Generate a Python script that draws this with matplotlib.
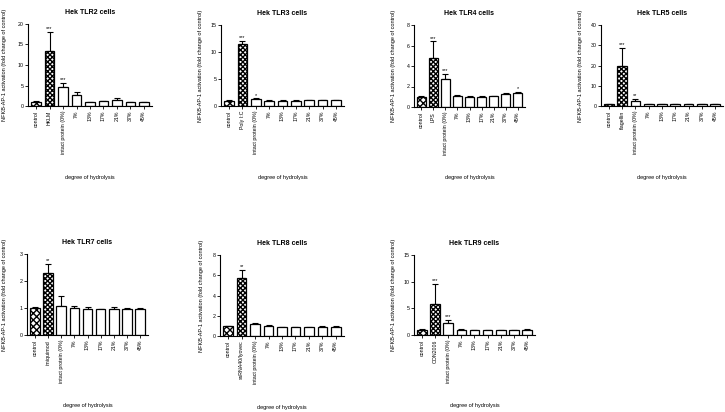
import numpy as np
import matplotlib.pyplot as plt

plt.rcParams['font.family'] = ['Liberation Sans', 'DejaVu Sans']

# categories shared by every panel (second one is the positive control)
cats_tail = ["intact protein (0%)", "7%", "13%", "17%", "21%", "37%", "45%"]

titles = ["Hek TLR2 cells", "Hek TLR3 cells", "Hek TLR4 cells", "Hek TLR5 cells",
          "Hek TLR7 cells", "Hek TLR8 cells", "Hek TLR9 cells"]
pos_ctrl = ["HKLM", "Poly I:C", "LPS", "flagellin", "imiquimod",
            "ssRNA40/lyovec", "ODN2006"]

tlr2_mean = [1.0, 13.3, 4.7, 2.6, 1.0, 1.1, 1.5, 1.0, 1.0]
tlr2_err = [0.1, 4.8, 1.0, 0.9, 0.05, 0.1, 0.4, 0.05, 0.05]
tlr3_mean = [1.0, 11.5, 1.3, 1.0, 1.0, 1.0, 1.05, 1.05, 1.05]
tlr3_err = [0.05, 0.6, 0.1, 0.05, 0.05, 0.05, 0.05, 0.05, 0.05]
tlr4_mean = [1.0, 4.8, 2.7, 1.1, 1.0, 1.0, 1.05, 1.25, 1.35]
tlr4_err = [0.05, 1.6, 0.5, 0.05, 0.03, 0.03, 0.03, 0.08, 0.1]
tlr5_mean = [1.0, 19.7, 2.3, 1.0, 1.0, 1.0, 1.0, 1.0, 1.0]
tlr5_err = [0.1, 9.0, 1.0, 0.05, 0.05, 0.05, 0.05, 0.05, 0.05]
tlr7_mean = [1.0, 2.28, 1.08, 1.0, 0.97, 0.95, 0.97, 0.96, 0.96]
tlr7_err = [0.02, 0.35, 0.35, 0.06, 0.05, 0.02, 0.05, 0.03, 0.05]
tlr8_mean = [1.0, 5.75, 1.2, 1.0, 0.9, 0.9, 0.9, 0.92, 0.92]
tlr8_err = [0.03, 0.75, 0.05, 0.1, 0.02, 0.02, 0.02, 0.02, 0.02]
tlr9_mean = [1.0, 5.8, 2.2, 1.0, 0.9, 0.9, 0.9, 0.95, 1.0]
tlr9_err = [0.1, 3.8, 0.7, 0.05, 0.05, 0.05, 0.05, 0.05, 0.05]

means = [tlr2_mean, tlr3_mean, tlr4_mean, tlr5_mean, tlr7_mean, tlr8_mean, tlr9_mean]
errs = [tlr2_err, tlr3_err, tlr4_err, tlr5_err, tlr7_err, tlr8_err, tlr9_err]
stars = [
    {1: "***", 2: "***"},
    {1: "***", 2: "*"},
    {1: "***", 2: "***", 8: "*"},
    {1: "***", 2: "**"},
    {1: "**"},
    {1: "**"},
    {1: "***", 2: "***"},
]
ymax = [20, 15, 8, 40, 3, 8, 15]
ystep = [5, 5, 2, 10, 1, 2, 5]

# axes boxes in pixels: left, right, top, bottom (figure is 725x412)
boxes = [(28, 152, 24, 106), (221, 344, 25, 106), (414, 525, 25, 107),
         (601, 723, 25, 106), (27, 148, 254, 335), (220, 344, 255, 336),
         (414, 535, 255, 335)]
ylab_off = [21, 18, 18, 18, 20, 16, 18]

W, H = 725, 412
fig = plt.figure(figsize=(W / 100, H / 100), dpi=100)

for i in range(7):
    l, r, t, b = boxes[i]
    ax = fig.add_axes([l / W, 1 - b / H, (r - l) / W, (b - t) / H])
    cats = ["control", pos_ctrl[i]] + cats_tail
    x = np.arange(len(cats))
    m = np.array(means[i])
    e = np.array(errs[i])
    hatches = ["xxxxx", "xxxxxxx"] + [None] * 7
    for j in range(len(cats)):
        ax.bar(x[j], m[j], width=0.72, color="white", edgecolor="black",
               linewidth=0.9, hatch=hatches[j], zorder=2)
    ax.errorbar(x, m, yerr=[np.zeros_like(e), e], fmt="none", ecolor="black",
                elinewidth=0.8, capsize=2, capthick=0.8, zorder=1)
    for j, s in stars[i].items():
        ax.text(x[j], m[j] + e[j] + ymax[i] * 0.01, s, ha="center", va="bottom",
                fontsize=4)
    ax.set_xlim(-0.6, len(cats) - 0.4)
    ax.set_ylim(0, ymax[i])
    ax.set_yticks(np.arange(0, ymax[i] + 0.1, ystep[i]))
    ax.set_xticks(x)
    ax.set_xticklabels(cats, rotation=90, fontsize=3.8)
    ax.tick_params(axis="y", labelsize=3.8, length=2, width=0.6, pad=1)
    ax.tick_params(axis="x", length=2, width=0.6, pad=1.5)
    for sp in ["top", "right"]:
        ax.spines[sp].set_visible(False)
    for sp in ["left", "bottom"]:
        ax.spines[sp].set_linewidth(0.8)
    ax.set_title(titles[i], fontsize=5, fontweight="bold", pad=7)
    ax.set_ylabel("NFKB-AP-1 activation (fold change of control)", fontsize=4)
    ax.yaxis.set_label_coords(-ylab_off[i] / (r - l), 0.5)
    ax.text(0.5, -71 / (b - t), "degree of hydrolysis", transform=ax.transAxes,
            ha="center", va="center", fontsize=4)

fig.savefig("out.png", dpi=100)
